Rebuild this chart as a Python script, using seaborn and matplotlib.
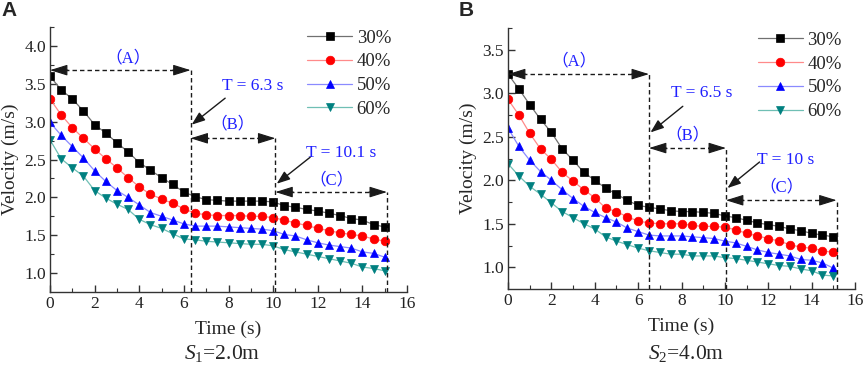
import matplotlib
matplotlib.use("Agg")
import matplotlib.pyplot as plt
import seaborn as sns
import pandas as pd

# ---------------- data ----------------
time = [0, 0.5, 1, 1.5, 2, 2.5, 3, 3.5, 4, 4.5, 5, 5.5, 6, 6.5, 7, 7.5, 8, 8.5,
        9, 9.5, 10, 10.5, 11, 11.5, 12, 12.5, 13, 13.5, 14, 14.5, 15]
series_labels = ["30%", "40%", "50%", "60%"]

a30 = [3.60, 3.42, 3.30, 3.14, 2.96, 2.85, 2.72, 2.60, 2.46, 2.36, 2.26, 2.17, 2.07, 2.01, 1.97, 1.96,
       1.95, 1.95, 1.95, 1.95, 1.94, 1.89, 1.87, 1.84, 1.82, 1.79, 1.76, 1.72, 1.70, 1.64, 1.61]
a40 = [3.30, 3.09, 2.92, 2.78, 2.64, 2.51, 2.39, 2.26, 2.14, 2.04, 1.98, 1.92, 1.85, 1.79, 1.77, 1.76,
       1.76, 1.76, 1.75, 1.75, 1.73, 1.70, 1.66, 1.63, 1.59, 1.56, 1.53, 1.51, 1.49, 1.45, 1.42]
a50 = [2.99, 2.82, 2.67, 2.52, 2.35, 2.21, 2.09, 2.00, 1.90, 1.80, 1.75, 1.70, 1.65, 1.62, 1.62, 1.62,
       1.61, 1.60, 1.59, 1.58, 1.56, 1.51, 1.49, 1.44, 1.40, 1.37, 1.35, 1.33, 1.28, 1.26, 1.21]
a60 = [2.76, 2.51, 2.39, 2.28, 2.09, 1.99, 1.91, 1.84, 1.71, 1.64, 1.59, 1.52, 1.45, 1.44, 1.42, 1.41,
       1.40, 1.39, 1.38, 1.38, 1.36, 1.31, 1.28, 1.25, 1.22, 1.19, 1.16, 1.13, 1.08, 1.06, 1.03]

b30 = [3.22, 3.05, 2.87, 2.70, 2.55, 2.36, 2.23, 2.09, 2.00, 1.91, 1.84, 1.77, 1.71, 1.69, 1.67, 1.65,
       1.64, 1.64, 1.63, 1.62, 1.59, 1.57, 1.54, 1.51, 1.49, 1.47, 1.44, 1.42, 1.39, 1.37, 1.35]
b40 = [2.93, 2.75, 2.54, 2.36, 2.24, 2.09, 1.99, 1.89, 1.80, 1.68, 1.64, 1.58, 1.53, 1.51, 1.50, 1.50,
       1.50, 1.48, 1.47, 1.47, 1.46, 1.43, 1.39, 1.36, 1.33, 1.30, 1.26, 1.23, 1.22, 1.19, 1.17]
b50 = [2.60, 2.39, 2.23, 2.10, 2.00, 1.89, 1.79, 1.70, 1.63, 1.57, 1.52, 1.45, 1.41, 1.37, 1.36, 1.36,
       1.36, 1.35, 1.34, 1.33, 1.30, 1.28, 1.24, 1.20, 1.17, 1.15, 1.13, 1.09, 1.08, 1.05, 0.99]
b60 = [2.19, 2.05, 1.93, 1.84, 1.74, 1.64, 1.57, 1.50, 1.44, 1.35, 1.30, 1.26, 1.22, 1.19, 1.17, 1.15,
       1.15, 1.13, 1.13, 1.13, 1.11, 1.10, 1.08, 1.06, 1.04, 1.02, 1.01, 0.98, 0.96, 0.91, 0.90]

# stage boundaries (s) and labels
a_bounds = [6.3, 10.1, 15.1]
b_bounds = [6.5, 10.05, 15.15]
a_T_labels = ["T = 6.3 s", "T = 10.1 s"]
b_T_labels = ["T = 6.5 s", "T = 10 s"]
stage_labels = ["（A）", "（B）", "（C）"]
panel_letters = ["A", "B"]
subtitles = [r"$\mathit{S_1}$=2.0m", r"$\mathit{S_2}$=4.0m"]

# ---------------- style ----------------
sns.set_theme(style="white")
plt.rcParams["font.family"] = ["Liberation Serif", "Noto Sans CJK SC", "DejaVu Sans"]
plt.rcParams["mathtext.fontset"] = "custom"
plt.rcParams["mathtext.rm"] = "Liberation Serif"
plt.rcParams["mathtext.it"] = "Liberation Serif:italic"

marker_colors = ["#000000", "#ff0000", "#0000ff", "#008080"]
line_colors = ["#707070", "#ff8a8a", "#8a8aff", "#6fbfb4"]
markers = ["s", "o", "^", "v"]
msizes = [5.5, 6.2, 6.2, 6.2]
BLUE_TXT = "#2020ff"

fig = plt.figure(figsize=(8.65, 3.65), dpi=100)
axA = fig.add_axes([50 / 865, 73 / 365, 357 / 865, 265 / 365])
axB = fig.add_axes([508 / 865, 76 / 365, 347 / 865, 261 / 365])


def draw_panel(ax, data, ylim, yticks, bounds, T_labels, pos):
    df = pd.DataFrame({"Time": time})
    for lab, vals in zip(series_labels, data):
        df[lab] = vals
    for i, lab in enumerate(series_labels):
        sns.lineplot(data=df, x="Time", y=lab, ax=ax, color=line_colors[i], lw=0.9,
                     marker=markers[i], markersize=msizes[i], markerfacecolor=marker_colors[i],
                     markeredgecolor=marker_colors[i], markeredgewidth=0.5, label=lab)
    ax.set_xlim(0, 16)
    ax.set_ylim(*ylim)
    ax.set_xticks(range(0, 17, 2))
    ax.set_xticks(range(1, 16, 2), minor=True)
    ax.set_yticks(yticks)
    ax.set_yticks([y + 0.25 for y in yticks], minor=True)
    ax.set_yticklabels([f"{y:.1f}" for y in yticks])
    for s in ["top", "right"]:
        ax.spines[s].set_visible(False)
    for s in ["left", "bottom"]:
        ax.spines[s].set_color("#333333")
        ax.spines[s].set_linewidth(1.0)
    ax.tick_params(which="both", direction="in", color="#333333", labelsize=12.5,
                   left=True, bottom=True, labelcolor="#222222")
    ax.tick_params(which="major", length=5, width=1, pad=3)
    ax.tick_params(which="minor", length=3, width=0.8)
    ax.set_xlabel("Time (s)", fontsize=14, labelpad=6)
    ax.set_ylabel("Velocity (m/s)", fontsize=14, labelpad=4)

    xs = [0] + bounds
    ybot = ylim[0]
    dash = (0, (3.2, 2.2))
    for k in range(3):
        x0, x1 = xs[k], xs[k + 1]
        y = pos["arr_y"][k]
        ax.plot([x0 + 0.3, x1 - 0.3], [y, y], color="k", lw=1, linestyle=dash)
        for xa, xb in [(x0 + 0.8, x0), (x1 - 0.8, x1)]:
            ax.annotate("", xy=(xb, y), xytext=(xa, y),
                        arrowprops=dict(arrowstyle="-|>,head_length=0.9,head_width=0.28",
                                        color="k", lw=0.8, mutation_scale=12,
                                        shrinkA=0, shrinkB=0))
        ax.plot([x1, x1], [ybot, y], color="k", lw=1, linestyle=dash)
        ax.text(pos["lab_xy"][k][0], pos["lab_xy"][k][1], stage_labels[k], color=BLUE_TXT,
                fontsize=12, ha="center", va="center")
    for k in range(2):
        tx, ty = pos["T_xy"][k]
        ax.text(tx, ty, T_labels[k], color=BLUE_TXT, fontsize=12.5, ha="center", va="center")
        ax.annotate("", xy=pos["Tarr_to"][k], xytext=pos["Tarr_from"][k],
                    arrowprops=dict(arrowstyle="-|>,head_length=0.8,head_width=0.3",
                                    color="k", lw=1, mutation_scale=10,
                                    shrinkA=0, shrinkB=0))


posA = dict(arr_y=[3.68, 2.78, 2.07],
            lab_xy=[(3.5, 3.84), (8.2, 2.96), (12.6, 2.23)],
            T_xy=[(9.1, 3.47), (13.05, 2.58)],
            Tarr_from=[(7.85, 3.31), (11.66, 2.53)],
            Tarr_to=[(6.35, 2.96), (10.16, 2.18)])
posB = dict(arr_y=[3.22, 2.37, 1.77],
            lab_xy=[(3.06, 3.37), (8.29, 2.52), (12.59, 1.92)],
            T_xy=[(8.93, 3.0), (12.82, 2.23)],
            Tarr_from=[(8.06, 2.85), (11.6, 2.21)],
            Tarr_to=[(6.57, 2.55), (10.12, 1.91)])

draw_panel(axA, [a30, a40, a50, a60], (0.75, 4.0), [1.0, 1.5, 2.0, 2.5, 3.0, 3.5, 4.0],
           a_bounds, a_T_labels, posA)
draw_panel(axB, [b30, b40, b50, b60], (0.75, 3.5), [1.0, 1.5, 2.0, 2.5, 3.0, 3.5],
           b_bounds, b_T_labels, posB)

for ax, anchor in [(axA, (0.72, 0.99)), (axB, (0.72, 0.985))]:
    ax.legend(loc="upper left", bbox_to_anchor=anchor, frameon=False, fontsize=13.5,
              handlelength=2.4, handletextpad=0.25, labelspacing=0.35, borderpad=0,
              borderaxespad=0)

fig.text(9 / 865, 1 - 11 / 365, panel_letters[0], fontsize=15, fontweight="bold",
         family="Liberation Sans", ha="center", va="center")
fig.text(466 / 865, 1 - 11 / 365, panel_letters[1], fontsize=15, fontweight="bold",
         family="Liberation Sans", ha="center", va="center")
fig.text(222 / 865, 1 - 353 / 365, subtitles[0], fontsize=15.5, ha="center", va="center")
fig.text(686 / 865, 1 - 353 / 365, subtitles[1], fontsize=15.5, ha="center", va="center")

fig.savefig("out.png", dpi=100)
